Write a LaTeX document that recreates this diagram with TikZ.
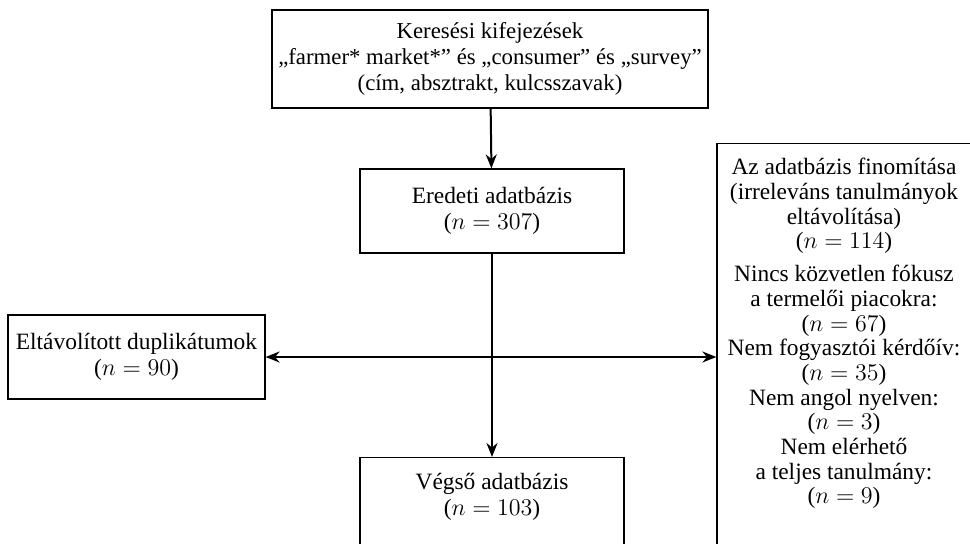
\documentclass[tikz,border=0pt]{standalone}
\usepackage{fontspec}
\setmainfont{Liberation Serif}
\usetikzlibrary{arrows.meta}

\begin{document}
\begin{tikzpicture}[
    x=0.5pt, y=-0.5pt,
    >={Stealth[length=7pt, width=5.5pt]},
    font=\fontsize{11.7}{12.8}\selectfont,
    flowbox/.style={draw, line width=0.6pt, align=center, inner sep=0pt},
    flowline/.style={line width=1pt},
]
\useasboundingbox (0,0) rectangle (970,543);

% Search terms
\node[flowbox, minimum width=218pt, minimum height=49pt, font=\fontsize{11.4}{13}\selectfont] (search) at (490,59)
    {Keresési kifejezések\\„farmer* market*” és „consumer” és „survey”\\(cím, absztrakt, kulcsszavak)};

% Original database
\node[flowbox, minimum width=132pt, minimum height=42pt] (orig) at (492,211)
    {Eredeti adatbázis\\($n = 307$)};

% Removed duplicates
\node[flowbox, minimum width=128.5pt, minimum height=42pt] (dup) at (136.5,357)
    {Eltávolított duplikátumok\\($n = 90$)};

% Final database (cut off below)
\node[flowbox, minimum width=132pt, minimum height=60pt, anchor=north] (final) at (492,457) {};
\node[align=center] (finaltext) at (492,497)
    {Végső adatbázis\\($n = 103$)};

% Refining the database (cut off right and below)
\node[flowbox, minimum width=129pt, minimum height=230pt, anchor=north] (refine) at (846,143) {};
\node[align=center, anchor=north, inner sep=0pt, font=\fontsize{11.7}{12.35}\selectfont] (refinetext) at (844,158)
    {Az adatbázis finomítása\\(irreleváns tanulmányok\\eltávolítása)\\($n = 114$)\\[4pt]
     Nincs közvetlen fókusz\\a termelői piacokra:\\($n = 67$)\\Nem fogyasztói kérdőív:\\($n = 35$)\\
     Nem angol nyelven:\\($n = 3$)\\Nem elérhető\\a teljes tanulmány:\\($n = 9$)};

% Connectors
\draw[flowline, ->] (search) -- (orig);
\draw[flowline, ->] (orig) -- (final);
\draw[flowline, <->] (dup.east) -- (refine.west |- dup.east);

\end{tikzpicture}
\end{document}
